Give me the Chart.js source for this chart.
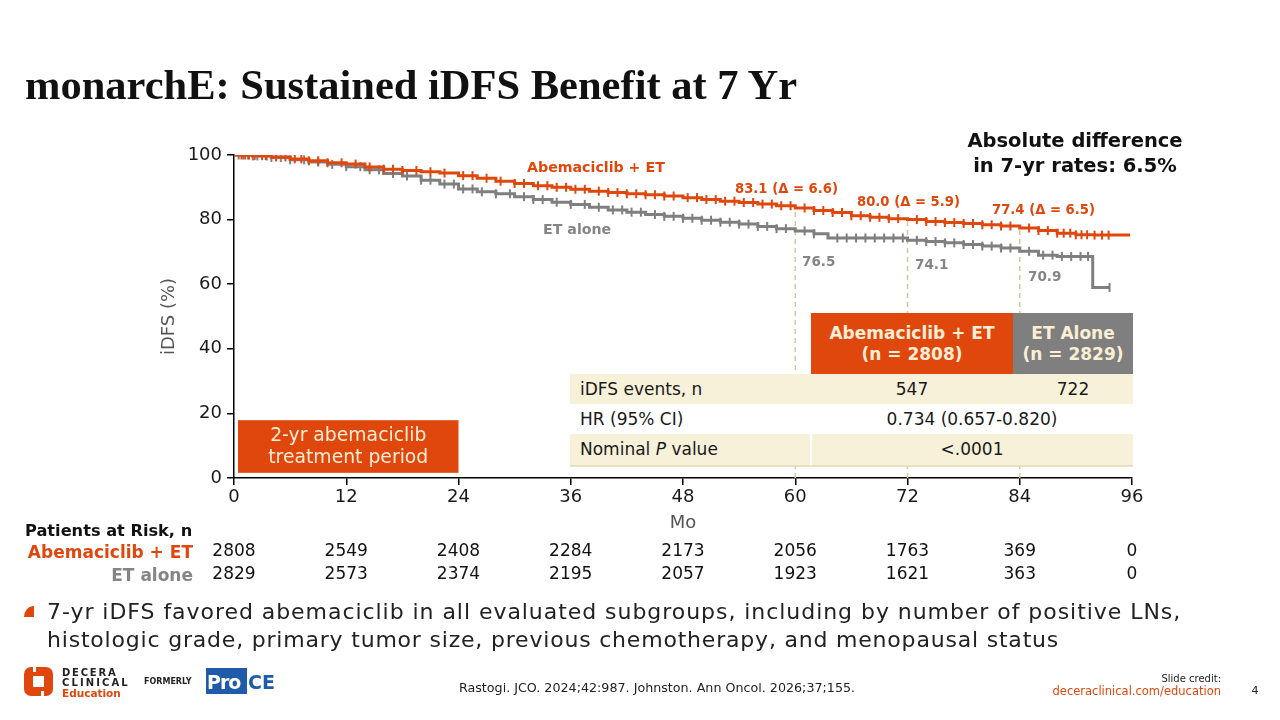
<!DOCTYPE html>
<html>
<head>
<meta charset="utf-8">
<script src="https://cdn.jsdelivr.net/npm/chart.js@4.4.1/dist/chart.umd.min.js"></script>
<style>
body{margin:0;width:1280px;height:720px;position:relative;overflow:hidden;background:#fff;font-family:"DejaVu Sans",sans-serif;color:#1a1a1a}
#c{position:absolute;left:0;top:0}
.t{position:absolute;white-space:nowrap;line-height:1.2;transform:translate(0,-50%)}
.tc{position:absolute;white-space:nowrap;line-height:1.2;transform:translate(-50%,-50%);text-align:center}
.tr{position:absolute;white-space:nowrap;line-height:1.2;transform:translate(-100%,-50%);text-align:right}
.b{font-weight:700}
.or{color:#e0470c}
.gr{color:#858585}
.box{position:absolute}
.hdr{position:absolute;display:flex;align-items:center;justify-content:center;text-align:center;color:#fbeed5;font-weight:700;font-size:17px;line-height:21px}
</style>
</head>
<body>
<canvas id="c" width="1280" height="720"></canvas>

<div class="t b" style="left:25px;top:84px;font-family:'Liberation Serif',serif;font-size:42.5px;color:#111">monarchE: Sustained iDFS Benefit at 7 Yr</div>

<div class="tc b" style="left:1075px;top:141px;font-size:19.5px;color:#111">Absolute difference</div>
<div class="tc b" style="left:1075px;top:166px;font-size:19.5px;color:#111">in 7-yr rates: 6.5%</div>

<div class="t b or" style="left:527px;top:168px;font-size:14.2px">Abemaciclib + ET</div>
<div class="t b gr" style="left:543px;top:230px;font-size:14.2px">ET alone</div>
<div class="t b or" style="left:735px;top:189px;font-size:13.2px">83.1 (Δ = 6.6)</div>
<div class="t b or" style="left:857px;top:202px;font-size:13.2px">80.0 (Δ = 5.9)</div>
<div class="t b or" style="left:992px;top:210px;font-size:13.2px">77.4 (Δ = 6.5)</div>
<div class="t b gr" style="left:802px;top:261px;font-size:13.5px">76.5</div>
<div class="t b gr" style="left:915px;top:264px;font-size:13.5px">74.1</div>
<div class="t b gr" style="left:1028px;top:276px;font-size:13.5px">70.9</div>

<!-- results table -->
<div class="hdr" style="left:811px;top:313px;width:202px;height:61px;background:#e0470c">Abemaciclib + ET<br>(n = 2808)</div>
<div class="hdr" style="left:1013px;top:313px;width:120px;height:61px;background:#7f7f7f">ET Alone<br>(n = 2829)</div>
<div class="box" style="left:570px;top:374px;width:563px;height:30px;background:#f8f1da"></div>
<div class="box" style="left:570px;top:404px;width:563px;height:30px;background:#fff"></div>
<div class="box" style="left:570px;top:434px;width:563px;height:31px;background:#f8f1da"></div>
<div class="box" style="left:810px;top:434px;width:2px;height:31px;background:#fff"></div>
<div class="box" style="left:570px;top:465px;width:563px;height:2px;background:#e8dfc4"></div>
<div class="t" style="left:580px;top:389px;font-size:17px">iDFS events, n</div>
<div class="tc" style="left:912px;top:389px;font-size:17px">547</div>
<div class="tc" style="left:1073px;top:389px;font-size:17px">722</div>
<div class="t" style="left:580px;top:419px;font-size:17px">HR (95% CI)</div>
<div class="tc" style="left:972px;top:419px;font-size:17px">0.734 (0.657-0.820)</div>
<div class="t" style="left:580px;top:449px;font-size:17px">Nominal <i>P</i> value</div>
<div class="tc" style="left:972px;top:449px;font-size:17px">&lt;.0001</div>

<!-- risk table labels -->
<div class="t b" style="left:25px;top:531px;font-size:16.2px;color:#111">Patients at Risk, n</div>
<div class="tr b or" style="left:193px;top:552px;font-size:17px">Abemaciclib + ET</div>
<div class="tr b gr" style="left:193px;top:575px;font-size:17px">ET alone</div>

<!-- bullet -->
<div class="box" style="left:24px;top:606px;width:10px;height:11px;background:#e0470c;border-top-left-radius:100%"></div>
<div class="t" style="left:47px;top:612px;font-size:22px;letter-spacing:0.95px;color:#222">7-yr iDFS favored abemaciclib in all evaluated subgroups, including by number of positive LNs,</div>
<div class="t" style="left:47px;top:640px;font-size:22px;letter-spacing:0.8px;color:#222">histologic grade, primary tumor size, previous chemotherapy, and menopausal status</div>

<!-- footer -->
<div class="box" style="left:24px;top:667px;width:29px;height:29px;background:#e0470c;border-radius:7px"></div>
<div class="box" style="left:33px;top:676px;width:11px;height:11px;background:#fff"></div>
<div class="box" style="left:33px;top:667px;width:3px;height:5px;background:#fff"></div>
<div class="box" style="left:41px;top:691px;width:3px;height:5px;background:#fff"></div>
<div class="t b" style="left:62px;top:673px;font-size:10px;letter-spacing:1.8px;color:#222">DECERA</div>
<div class="t b" style="left:62px;top:683px;font-size:10px;letter-spacing:2.1px;color:#222">CLINICAL</div>
<div class="t or" style="left:62px;top:693px;font-size:10.5px;font-weight:600">Education</div>
<div class="t b" style="left:144px;top:682px;font-size:8px;color:#222">FORMERLY</div>
<div class="box" style="left:206px;top:668px;width:41px;height:26px;background:#1f5ba8"></div>
<div class="t b" style="left:207px;top:682px;font-size:19px;color:#fff;letter-spacing:-1px">Pro</div>
<div class="t" style="left:248px;top:682px;font-size:19px;color:#1f5ba8;font-weight:600">CE</div>
<div class="tc" style="left:657px;top:688px;font-size:12.7px;color:#222">Rastogi. JCO. 2024;42:987. Johnston. Ann Oncol. 2026;37;155.</div>
<div class="tr" style="left:1221px;top:679px;font-size:10px;color:#222">Slide credit:</div>
<div class="tr or" style="left:1221px;top:692px;font-size:11.5px">deceraclinical.com/education</div>
<div class="tc" style="left:1255px;top:691px;font-size:11px;color:#222">4</div>

<script>
// ---- data ----
const X_TICKS = [0, 12, 24, 36, 48, 60, 72, 84, 96];

const ABEMA_T = [0, 2, 4, 6, 8, 10, 12, 14, 16, 18, 20, 22, 24, 26, 28, 30, 32, 34, 36, 38, 40, 42, 44, 46, 48,
  50, 52, 54, 56, 58, 60, 62, 64, 66, 68, 70, 72, 74, 76, 78, 80, 82, 84, 86, 88, 90, 92, 95.8];
const ABEMA_S = [100, 99.8, 99.4, 98.8, 98.2, 97.6, 97.2, 96.3, 95.6, 95.2, 94.8, 94.4, 93.6, 92.8, 91.9, 91.2, 90.5, 90.0, 89.4, 88.8, 88.4, 88.0, 87.7, 87.3, 86.8,
  86.2, 85.7, 85.3, 84.8, 84.3, 83.6, 82.8, 82.2, 81.2, 80.7, 80.3, 80.0, 79.4, 79.1, 78.8, 78.4, 78.0, 77.4, 76.6, 75.8, 75.3, 75.2, 75.2];

const ET_T = [0, 2, 4, 6, 8, 10, 12, 14, 16, 18, 20, 22, 24, 26, 28, 30, 32, 34, 36, 38, 40, 42, 44, 46, 48,
  50, 52, 54, 56, 58, 60, 62, 63.5, 72, 74, 76, 78, 80, 82, 84, 86, 88, 91.8, 93.6];
const ET_S = [100, 99.7, 99.2, 98.5, 97.8, 97.1, 96.4, 95.4, 94.3, 93.5, 92.2, 91.0, 89.5, 88.6, 88.0, 87.1, 86.2, 85.4, 84.7, 83.8, 83.0, 82.3, 81.6, 81.0, 80.4,
  79.8, 79.2, 78.6, 77.9, 77.2, 76.5, 75.6, 74.3, 73.6, 73.2, 72.8, 72.3, 71.8, 71.2, 70.2, 69.0, 68.6, 59.0, 59.0];

const ABEMA_CENSOR = [0.8, 1.2, 1.6, 2.2, 3, 3.4, 4.5, 5.5, 6.5, 7.2, 8, 9, 10, 11.5, 13, 14.5, 16, 17, 18, 19.5, 21, 22.5, 24.5, 25.5,
  27, 28.5, 30, 31, 32.5, 33.5, 34.5, 35.5, 36.5, 37.5, 39, 40, 41, 42, 43, 44, 45, 46, 47, 48.5, 49.5, 50.5, 51.5, 52.5, 53.5,
  54.5, 55.5, 56.5, 57.5, 58.5, 59.5, 61, 62, 63, 64, 65, 66, 67, 68, 69, 70, 71, 73, 74, 75, 76, 77, 78, 79, 80, 81, 82,
  83, 85, 86, 87, 88, 88.7, 89.4, 90, 90.6, 91.2, 92, 92.8, 93.5];
const ET_CENSOR = [0.5, 1, 1.5, 2, 2.5, 3.5, 4, 5, 6, 7.5, 9, 10.5, 12, 13.5, 14.5, 15.5, 17, 18.5, 20, 21, 22.5, 23.5, 24.5,
  25.5, 26.5, 28, 29.5, 31, 32, 33, 34.5, 36, 37.5, 39, 40.5, 41.5, 42.5, 43.5, 45, 46, 47, 48, 49, 50, 51, 52, 53, 54, 55,
  56, 57, 58, 59, 61, 62, 64.5, 65.5, 66.5, 67.5, 68.5, 69.5, 70.5, 71.5, 73, 74, 75, 76, 77, 78, 79, 80, 81, 82, 83, 85,
  86.5, 87.5, 88.5, 89.5, 90.5, 91.3, 93.6];

const LANDMARKS = [60, 72, 84];
const TREAT_PERIOD = [0, 24];
const RISK_ABEMA = [2808, 2549, 2408, 2284, 2173, 2056, 1763, 369, 0];
const RISK_ET = [2829, 2573, 2374, 2195, 2057, 1923, 1621, 363, 0];

const ORANGE = '#e0470c';
const GRAY = '#7f7f7f';
const FONT = 'DejaVu Sans';

function stepAt(T, S, x) {
  let v = S[0];
  for (let i = 0; i < T.length; i++) { if (T[i] <= x) v = S[i]; }
  return v;
}
function curve(T, S) { return T.map((t, i) => ({x: t, y: S[i]})); }
function censors(C, T, S) { return C.map(t => ({x: t, y: stepAt(T, S, t)})); }

const dashSets = LANDMARKS.map(m => ({
  data: [{x: m, y: 0}, {x: m, y: stepAt(ABEMA_T, ABEMA_S, m)}],
  showLine: true, borderColor: '#d6c79b', borderWidth: 1.5, borderDash: [5, 4],
  pointRadius: 0, order: 5
}));

// treatment box and risk numbers
const extras = {
  id: 'extras',
  beforeDatasetsDraw(chart) {
    const {ctx, scales: {x, y}} = chart;
    const x0 = x.getPixelForValue(TREAT_PERIOD[0]) + 4;
    const x1 = x.getPixelForValue(TREAT_PERIOD[1]);
    const y0 = y.getPixelForValue(17.9);
    const y1 = y.getPixelForValue(1.6);
    ctx.save();
    ctx.fillStyle = ORANGE;
    ctx.fillRect(x0, y0, x1 - x0, y1 - y0);
    ctx.fillStyle = '#fbeed5';
    ctx.font = '18.8px "' + FONT + '"';
    ctx.textAlign = 'center';
    ctx.textBaseline = 'middle';
    ctx.fillText('2-yr abemaciclib', (x0 + x1) / 2, y0 + 16);
    ctx.fillText('treatment period', (x0 + x1) / 2, y0 + 38);
    ctx.restore();
  },
  afterDraw(chart) {
    const {ctx, scales: {x}} = chart;
    ctx.save();
    ctx.fillStyle = '#111';
    ctx.font = '17px "' + FONT + '"';
    ctx.textAlign = 'center';
    ctx.textBaseline = 'middle';
    X_TICKS.forEach((m, i) => {
      const px = x.getPixelForValue(m);
      ctx.fillText(String(RISK_ABEMA[i]), px, 552);
      ctx.fillText(String(RISK_ET[i]), px, 575);
    });
    ctx.restore();
  }
};

new Chart(document.getElementById('c'), {
  type: 'scatter',
  data: {
    datasets: [
      {data: curve(ABEMA_T, ABEMA_S), showLine: true, stepped: true, borderColor: ORANGE, borderWidth: 3, pointRadius: 0, order: 1},
      {data: curve(ET_T, ET_S), showLine: true, stepped: true, borderColor: GRAY, borderWidth: 3, pointRadius: 0, order: 2},
      {data: censors(ABEMA_CENSOR, ABEMA_T, ABEMA_S), pointStyle: 'line', rotation: 90, radius: 4.5, borderWidth: 2, borderColor: ORANGE, order: 1},
      {data: censors(ET_CENSOR, ET_T, ET_S), pointStyle: 'line', rotation: 90, radius: 4.5, borderWidth: 2, borderColor: GRAY, order: 2},
      ...dashSets
    ]
  },
  options: {
    responsive: false,
    animation: false,
    events: [],
    layout: {padding: {left: 155, right: 148, top: 155, bottom: 186}},
    plugins: {legend: {display: false}, tooltip: {enabled: false}},
    scales: {
      x: {
        type: 'linear', min: 0, max: 96,
        afterBuildTicks(s) { s.ticks = X_TICKS.map(v => ({value: v})); },
        afterFit(s) { s.height = 56; },
        grid: {drawOnChartArea: false, color: '#000', tickLength: 7, lineWidth: 1.5},
        border: {color: '#000', width: 1.5},
        ticks: {color: '#1a1a1a', font: {family: FONT, size: 18}, padding: 2, maxRotation: 0},
        title: {display: true, text: 'Mo', color: '#555', font: {family: FONT, size: 18}, padding: {top: 0, bottom: 0}}
      },
      y: {
        min: 0, max: 100,
        ticks: {stepSize: 20, color: '#1a1a1a', font: {family: FONT, size: 18}, padding: 5},
        afterFit(s) { s.width = 79; },
        grid: {drawOnChartArea: false, color: '#000', tickLength: 7, lineWidth: 1.5},
        border: {color: '#000', width: 1.5},
        title: {display: true, text: 'iDFS (%)', color: '#555', font: {family: FONT, size: 18}}
      }
    }
  },
  plugins: [extras]
});
</script>
</body>
</html>
